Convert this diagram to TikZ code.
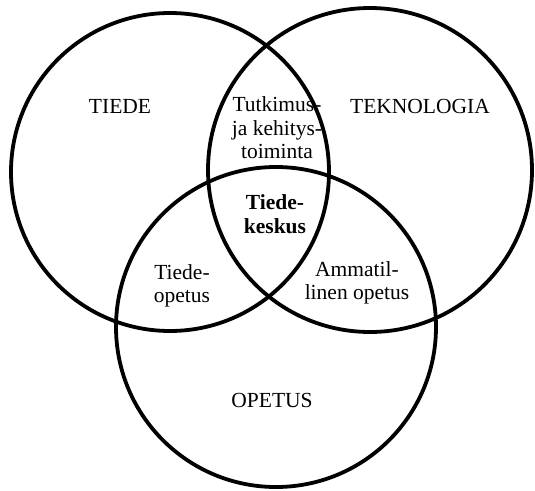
\documentclass[tikz,border=0pt]{standalone}
\usepackage{fontspec}
\setmainfont{Liberation Serif}
\usepackage{tikz}

\begin{document}
\begin{tikzpicture}[x=1pt,y=-1pt,
	ring/.style={line width=3.8pt},
	lbl/.style={align=center,inner sep=0pt,font=\fontsize{21.5}{23.5}\selectfont}]
	\useasboundingbox (0,0) rectangle (535,490);
	\coordinate (cT) at (170,172);
	\coordinate (cK) at (370,170);
	\coordinate (cO) at (276,327);
	\draw[ring] (cT) circle (159);
	\draw[ring] (cK) circle (162);
	\draw[ring] (cO) circle (160);
	\node[lbl] (tiede) at (120,106) {TIEDE};
	\node[lbl] (tekno) at (420,106) {TEKNOLOGIA};
	\node[lbl] (opetus) at (272,400) {OPETUS};
	\node[lbl] (tkt) at (277,128) {Tutkimus-\\ja kehitys-\\toiminta};
	\node[lbl,font=\fontsize{21.5}{23.5}\selectfont\bfseries] (keskus) at (275,214) {Tiede-\\keskus};
	\node[lbl] (topetus) at (182,286) {Tiede-\\opetus};
	\node[lbl] (amm) at (357,283) {Ammatil-\\linen opetus};
\end{tikzpicture}
\end{document}
